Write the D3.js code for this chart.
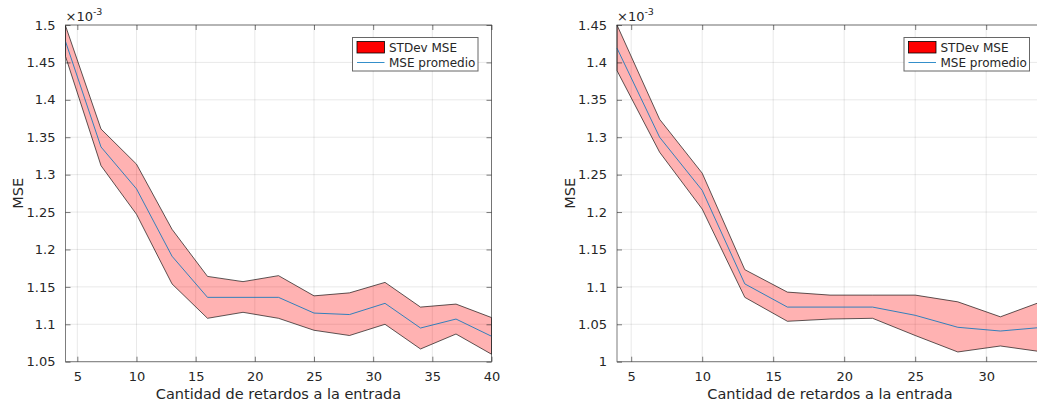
<!DOCTYPE html>
<html>
<head>
<meta charset="utf-8">
<script src="https://cdn.jsdelivr.net/npm/d3@7"></script>
<style>
  body { margin: 0; background: #fff; overflow: hidden; }
  svg { display: block; font-family: "DejaVu Sans", sans-serif; }
  .tick text { fill: #262626; font-size: 13px; }
</style>
</head>
<body>
<div id="chart"></div>
<script>
// datos (MSE x 1e-3)
var retardosIzq = [4, 7, 10, 13, 16, 19, 22, 25, 28, 31, 34, 37, 40];
var mseMedioIzq = [1.478, 1.337, 1.281, 1.191, 1.136, 1.136, 1.136, 1.115, 1.113, 1.128, 1.095, 1.107, 1.084];
var stdSupIzq   = [1.499, 1.361, 1.314, 1.227, 1.164, 1.157, 1.165, 1.138, 1.142, 1.156, 1.123, 1.127, 1.109];
var stdInfIzq   = [1.458, 1.312, 1.247, 1.154, 1.108, 1.116, 1.108, 1.092, 1.085, 1.100, 1.067, 1.087, 1.060];

var retardosDer = [4, 7, 10, 13, 16, 19, 22, 25, 28, 31, 34];
var mseMedioDer = [1.419, 1.300, 1.229, 1.104, 1.073, 1.073, 1.073, 1.062, 1.046, 1.041, 1.046];
var stdSupDer   = [1.450, 1.324, 1.252, 1.123, 1.093, 1.089, 1.089, 1.089, 1.080, 1.060, 1.081];
var stdInfDer   = [1.389, 1.280, 1.204, 1.086, 1.054, 1.057, 1.058, 1.035, 1.013, 1.021, 1.013];

var xTicks = [5, 10, 15, 20, 25, 30, 35, 40];
var yTicksIzq = [1.05, 1.1, 1.15, 1.2, 1.25, 1.3, 1.35, 1.4, 1.45, 1.5];
var yTicksDer = [1, 1.05, 1.1, 1.15, 1.2, 1.25, 1.3, 1.35, 1.4, 1.45];

var W = 1037, H = 404;
var svg = d3.select("#chart").append("svg")
  .attr("width", W).attr("height", H);

function panel(cfg) {
  var g = svg.append("g").attr("transform", "translate(" + cfg.left + "," + cfg.top + ")");
  var w = cfg.w, h = cfg.h;

  var x = d3.scaleLinear().domain(cfg.xDom).range([0, w]);
  var y = d3.scaleLinear().domain(cfg.yDom).range([h, 0]);
  var xt = xTicks.filter(function(t) { return t >= cfg.xDom[0] && t <= cfg.xDom[1]; });

  // grid
  g.append("g").selectAll("line").data(xt).enter().append("line")
    .attr("x1", function(d) { return x(d); }).attr("x2", function(d) { return x(d); })
    .attr("y1", 0).attr("y2", h)
    .style("stroke", "#262626").style("stroke-opacity", 0.15).style("stroke-width", 0.7);
  g.append("g").selectAll("line").data(cfg.yTicks).enter().append("line")
    .attr("y1", function(d) { return y(d); }).attr("y2", function(d) { return y(d); })
    .attr("x1", 0).attr("x2", w)
    .style("stroke", "#262626").style("stroke-opacity", 0.15).style("stroke-width", 0.7);

  // banda de desviacion
  var pts = cfg.xs.map(function(d, i) { return [x(d), y(cfg.sup[i])]; });
  var inf = cfg.xs.map(function(d, i) { return [x(d), y(cfg.inf[i])]; }).reverse();
  g.append("path")
    .attr("d", "M" + pts.concat(inf).join("L") + "Z")
    .style("fill", "#ff0000").style("fill-opacity", 0.3)
    .style("stroke", "#000").style("stroke-opacity", 0.8).style("stroke-width", 0.8);

  // linea media
  var linea = d3.line()
    .x(function(d, i) { return x(cfg.xs[i]); })
    .y(function(d) { return y(d); });
  g.append("path").datum(cfg.mean)
    .attr("d", linea)
    .style("fill", "none").style("stroke", "#0072bd").style("stroke-width", 0.8);

  // ejes
  var ax = function(a) {
    a.select(".domain").remove();
    a.selectAll(".tick line").style("stroke", "#262626").style("stroke-opacity", 0.6);
  };
  g.append("g").attr("transform", "translate(0," + h + ")")
    .call(d3.axisBottom(x).tickValues(xt).tickSizeInner(-5).tickSizeOuter(0).tickPadding(10).tickFormat(d3.format("d")))
    .call(ax);
  g.append("g")
    .call(d3.axisTop(x).tickValues(xt).tickSizeInner(-5).tickSizeOuter(0).tickFormat(""))
    .call(ax);
  g.append("g")
    .call(d3.axisLeft(y).tickValues(cfg.yTicks).tickSizeInner(-5).tickSizeOuter(0).tickPadding(10).tickFormat(function(d) { return String(+d.toFixed(2)); }))
    .call(ax);
  g.append("g").attr("transform", "translate(" + w + ",0)")
    .call(d3.axisRight(y).tickValues(cfg.yTicks).tickSizeInner(-5).tickSizeOuter(0).tickFormat(""))
    .call(ax);
  g.selectAll(".tick text").style("font-family", "DejaVu Sans");

  g.append("rect").attr("width", w).attr("height", h)
    .style("fill", "none").style("stroke", "#262626").style("stroke-opacity", 0.6).style("stroke-width", 1);

  // multiplicador
  var m = g.append("text").attr("x", 0).attr("y", -4)
    .style("font-size", "13px").style("fill", "#262626");
  m.append("tspan").text("\u00d710");
  m.append("tspan").attr("dy", -6).style("font-size", "9.5px").text("-3");

  // titulos de ejes
  g.append("text").attr("x", w / 2).attr("y", h + 37)
    .attr("text-anchor", "middle").style("font-size", "14.5px").style("fill", "#262626")
    .text("Cantidad de retardos a la entrada");
  g.append("text")
    .attr("transform", "translate(" + (cfg.ylabX) + "," + (h / 2) + ") rotate(-90)")
    .attr("text-anchor", "middle").style("font-size", "14.5px").style("fill", "#262626")
    .text("MSE");

  // leyenda
  var lg = g.append("g").attr("transform", "translate(" + (w - 139) + ",12.5)");
  lg.append("rect").attr("width", 125.5).attr("height", 33.5)
    .style("fill", "#fff").style("stroke", "#262626").style("stroke-opacity", 0.7).style("stroke-width", 1);
  lg.append("rect").attr("x", 4.5).attr("y", 4).attr("width", 27.5).attr("height", 11.5)
    .style("fill", "#ff0000").style("stroke", "#000").style("stroke-width", 0.8);
  lg.append("line").attr("x1", 4.5).attr("x2", 32).attr("y1", 25).attr("y2", 25)
    .style("stroke", "#0072bd").style("stroke-width", 0.8);
  lg.append("text").attr("x", 36.5).attr("y", 14.5)
    .style("font-size", "12px").style("fill", "#262626").text("STDev MSE");
  lg.append("text").attr("x", 36.5).attr("y", 29.5)
    .style("font-size", "12px").style("fill", "#262626").text("MSE promedio");
}

panel({ left: 65.5, top: 25, w: 426, h: 336.7, xDom: [4, 40], yDom: [1.05, 1.5],
        yTicks: yTicksIzq, xs: retardosIzq, mean: mseMedioIzq, sup: stdSupIzq, inf: stdInfIzq, ylabX: -43 });
panel({ left: 617, top: 25, w: 426, h: 336.7, xDom: [4, 34], yDom: [1, 1.45],
        yTicks: yTicksDer, xs: retardosDer, mean: mseMedioDer, sup: stdSupDer, inf: stdInfDer, ylabX: -42 });
</script>
</body>
</html>
